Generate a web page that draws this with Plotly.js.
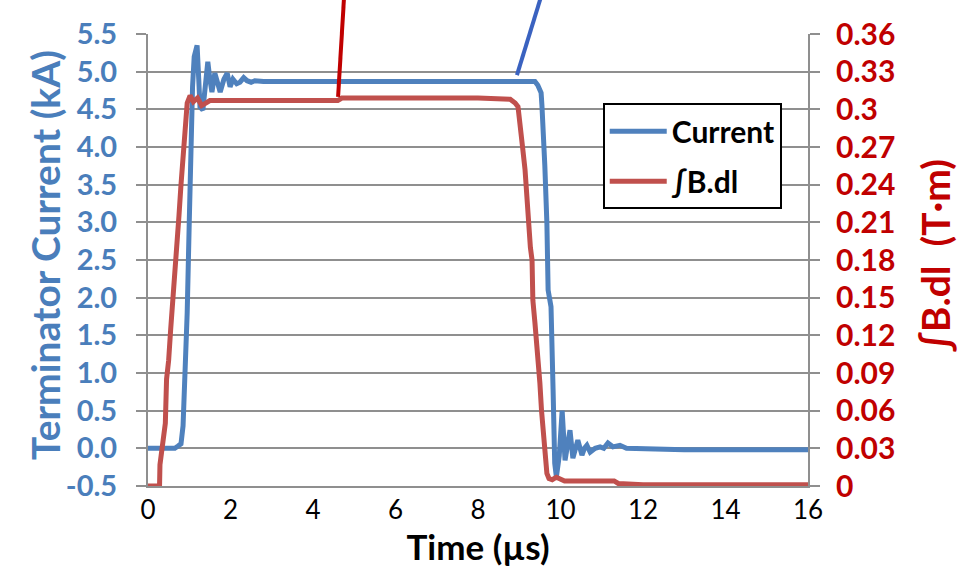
<!DOCTYPE html>
<html>
<head>
<meta charset="utf-8">
<script src="https://cdn.plot.ly/plotly-3.0.1.min.js"></script>
<style>html,body{margin:0;padding:0;background:#fff;}#chart{width:961px;height:571px;}</style>
</head>
<body>
<div id="chart"></div>
<script>
// Terminator current (kA) vs time (µs)
const currentTime = [0, 0.65, 0.73, 0.8, 0.85, 0.9, 0.95, 1.0, 1.04, 1.08, 1.12, 1.16, 1.19, 1.23, 1.26, 1.33, 1.39, 1.45, 1.5, 1.55, 1.62, 1.68, 1.75, 1.84, 1.92, 1.99, 2.06, 2.15, 2.23, 2.32, 2.4, 2.5, 2.59, 2.8, 3.2, 4, 5, 6, 7, 8, 9, 9.26, 9.38, 9.45, 9.53, 9.55, 9.58, 9.62, 9.67, 9.7, 9.77, 9.79, 9.82, 9.86, 9.9, 9.97, 10.04, 10.11, 10.17, 10.23, 10.3, 10.36, 10.42, 10.52, 10.58, 10.64, 10.72, 10.84, 10.96, 11.05, 11.15, 11.27, 11.44, 11.6, 12, 13, 14, 15, 16];
const currentKA   = [0, 0, 0.03, 0.06, 0.3, 0.9, 1.8, 3.0, 4.0, 4.8, 5.2, 5.3, 5.35, 4.9, 4.53, 4.49, 4.85, 5.13, 4.9, 4.73, 4.98, 4.85, 4.73, 4.9, 4.98, 4.8, 4.9, 4.84, 4.86, 4.92, 4.88, 4.86, 4.88, 4.87, 4.87, 4.87, 4.87, 4.87, 4.87, 4.87, 4.87, 4.87, 4.87, 4.82, 4.72, 4.55, 4.28, 3.75, 2.99, 2.1, 1.88, 0.99, 0.78, -0.2, -0.38, -0.1, 0.5, -0.16, 0.1, 0.24, -0.13, 0.0, 0.11, -0.09, 0.0, 0.04, -0.05, 0.0, 0.02, 0.0, 0.07, 0.02, 0.04, 0.0, -0.01, -0.02, -0.02, -0.02, -0.02];

// ∫B.dl (T·m) vs time (µs)
const fieldTime = [0, 0.28, 0.29, 0.33, 0.36, 0.42, 0.45, 0.5, 0.55, 0.6, 0.65, 0.7, 0.75, 0.8, 0.85, 0.9, 0.95, 1.02, 1.1, 1.2, 1.3, 1.4, 1.5, 1.7, 2, 3, 4, 4.6, 4.7, 6, 8, 8.78, 8.9, 8.97, 9.02, 9.08, 9.14, 9.21, 9.27, 9.31, 9.33, 9.38, 9.43, 9.5, 9.54, 9.58, 9.62, 9.67, 9.72, 9.8, 9.9, 9.96, 10.1, 11.3, 11.4, 12, 14, 16];
const fieldTm   = [0, 0, 0.017, 0.03, 0.037, 0.05, 0.085, 0.1, 0.125, 0.145, 0.17, 0.19, 0.215, 0.24, 0.26, 0.287, 0.305, 0.311, 0.306, 0.309, 0.303, 0.305, 0.307, 0.307, 0.307, 0.307, 0.307, 0.307, 0.309, 0.309, 0.309, 0.308, 0.305, 0.302, 0.29, 0.27, 0.252, 0.212, 0.19, 0.18, 0.148, 0.13, 0.114, 0.082, 0.06, 0.045, 0.023, 0.01, 0.006, 0.005, 0.007, 0.006, 0.004, 0.004, 0.002, 0.001, 0.001, 0.001];

const leftTickVals = [-0.5, 0, 0.5, 1, 1.5, 2, 2.5, 3, 3.5, 4, 4.5, 5, 5.5];
const leftTickText = ["-0.5", "0.0", "0.5", "1.0", "1.5", "2.0", "2.5", "3.0", "3.5", "4.0", "4.5", "5.0", "5.5"];
const rightTickVals = [0, 0.03, 0.06, 0.09, 0.12, 0.15, 0.18, 0.21, 0.24, 0.27, 0.3, 0.33, 0.36];
const rightTickText = ["0", "0.03", "0.06", "0.09", "0.12", "0.15", "0.18", "0.21", "0.24", "0.27", "0.3", "0.33", "0.36"];
const timeTicks = [0, 2, 4, 6, 8, 10, 12, 14, 16];

const FONT = 'Lato, "Open Sans", sans-serif';
const BLUE = '#4f81bd', RED = '#c0504d', BLUE_TXT = '#4a7ebb', RED_TXT = '#c00000', GRID = '#8f8f8f';

const traces = [
  {x: currentTime, y: currentKA, name: 'Current', type: 'scatter', mode: 'lines',
   line: {color: BLUE, width: 5}, xaxis: 'x', yaxis: 'y', legendgroup: 'a'},
  {x: fieldTime, y: fieldTm, name: '∫B.dl', type: 'scatter', mode: 'lines',
   line: {color: RED, width: 5}, xaxis: 'x', yaxis: 'y2', legendgroup: 'b'}
];

const layout = {
  width: 961, height: 571,
  margin: {l: 148, r: 153, t: 34, b: 85},
  paper_bgcolor: '#fff', plot_bgcolor: '#fff',
  font: {family: FONT},
  showlegend: true,
  legend: {x: 0.689, y: 0.847, xanchor: 'left', yanchor: 'top',
    bgcolor: '#fff', bordercolor: '#000', borderwidth: 2,
    font: {family: FONT, size: 30, color: '#000', weight: 700},
    itemwidth: 57,
    tracegroupgap: 8, traceorder: 'grouped'},
  xaxis: {range: [0, 16], tickvals: timeTicks, ticks: '', showgrid: false, zeroline: false,
    showline: true, linecolor: GRID, linewidth: 2,
    tickfont: {family: FONT, size: 26, color: '#000'},
    title: {text: 'Time (µs)', font: {family: FONT, size: 35, color: '#000', weight: 700}, standoff: 10},
    automargin: false},
  yaxis: {range: [-0.5, 5.5], tickvals: leftTickVals, ticktext: leftTickText,
    ticks: 'outside', ticklen: 10, tickwidth: 2, tickcolor: GRID,
    showgrid: true, gridcolor: GRID, gridwidth: 2, zeroline: false,
    showline: true, linecolor: GRID, linewidth: 2,
    ticklabelstandoff: 13,
    tickfont: {family: FONT, size: 29, color: BLUE_TXT, weight: 700},
    automargin: false},
  yaxis2: {range: [0, 0.36], overlaying: 'y', side: 'right', anchor: 'x',
    tickvals: rightTickVals, ticktext: rightTickText,
    ticks: 'outside', ticklen: 10, tickwidth: 2, tickcolor: GRID,
    showgrid: false, zeroline: false, showline: true, linecolor: GRID, linewidth: 2,
    ticklabelstandoff: 10,
    tickfont: {family: FONT, size: 30, color: RED_TXT, weight: 700},
    automargin: false},
  annotations: [
    {text: 'Terminator Current (kA)', xref: 'paper', yref: 'paper', x: -0.156, y: 0.511,
     xanchor: 'center', yanchor: 'middle', textangle: -90, showarrow: false,
     font: {family: FONT, size: 39, color: BLUE_TXT, weight: 700}},
    {text: '∫B.dl\u00a0\u00a0(T·m)', xref: 'paper', yref: 'paper', x: 1.192, y: 0.511,
     xanchor: 'center', yanchor: 'middle', textangle: -90, showarrow: false,
     font: {family: FONT, size: 39, color: RED_TXT, weight: 700}}
  ],
  shapes: [
    {type: 'line', xref: 'paper', yref: 'paper', x0: 0.297, y0: 1.08, x1: 0.288, y1: 0.861,
     line: {color: '#c00000', width: 4}},
    {type: 'line', xref: 'paper', yref: 'paper', x0: 0.595, y0: 1.08, x1: 0.559, y1: 0.909,
     line: {color: '#3a62c0', width: 4}}
  ]
};

Plotly.newPlot('chart', traces, layout, {displayModeBar: false, staticPlot: true});
</script>
</body>
</html>
